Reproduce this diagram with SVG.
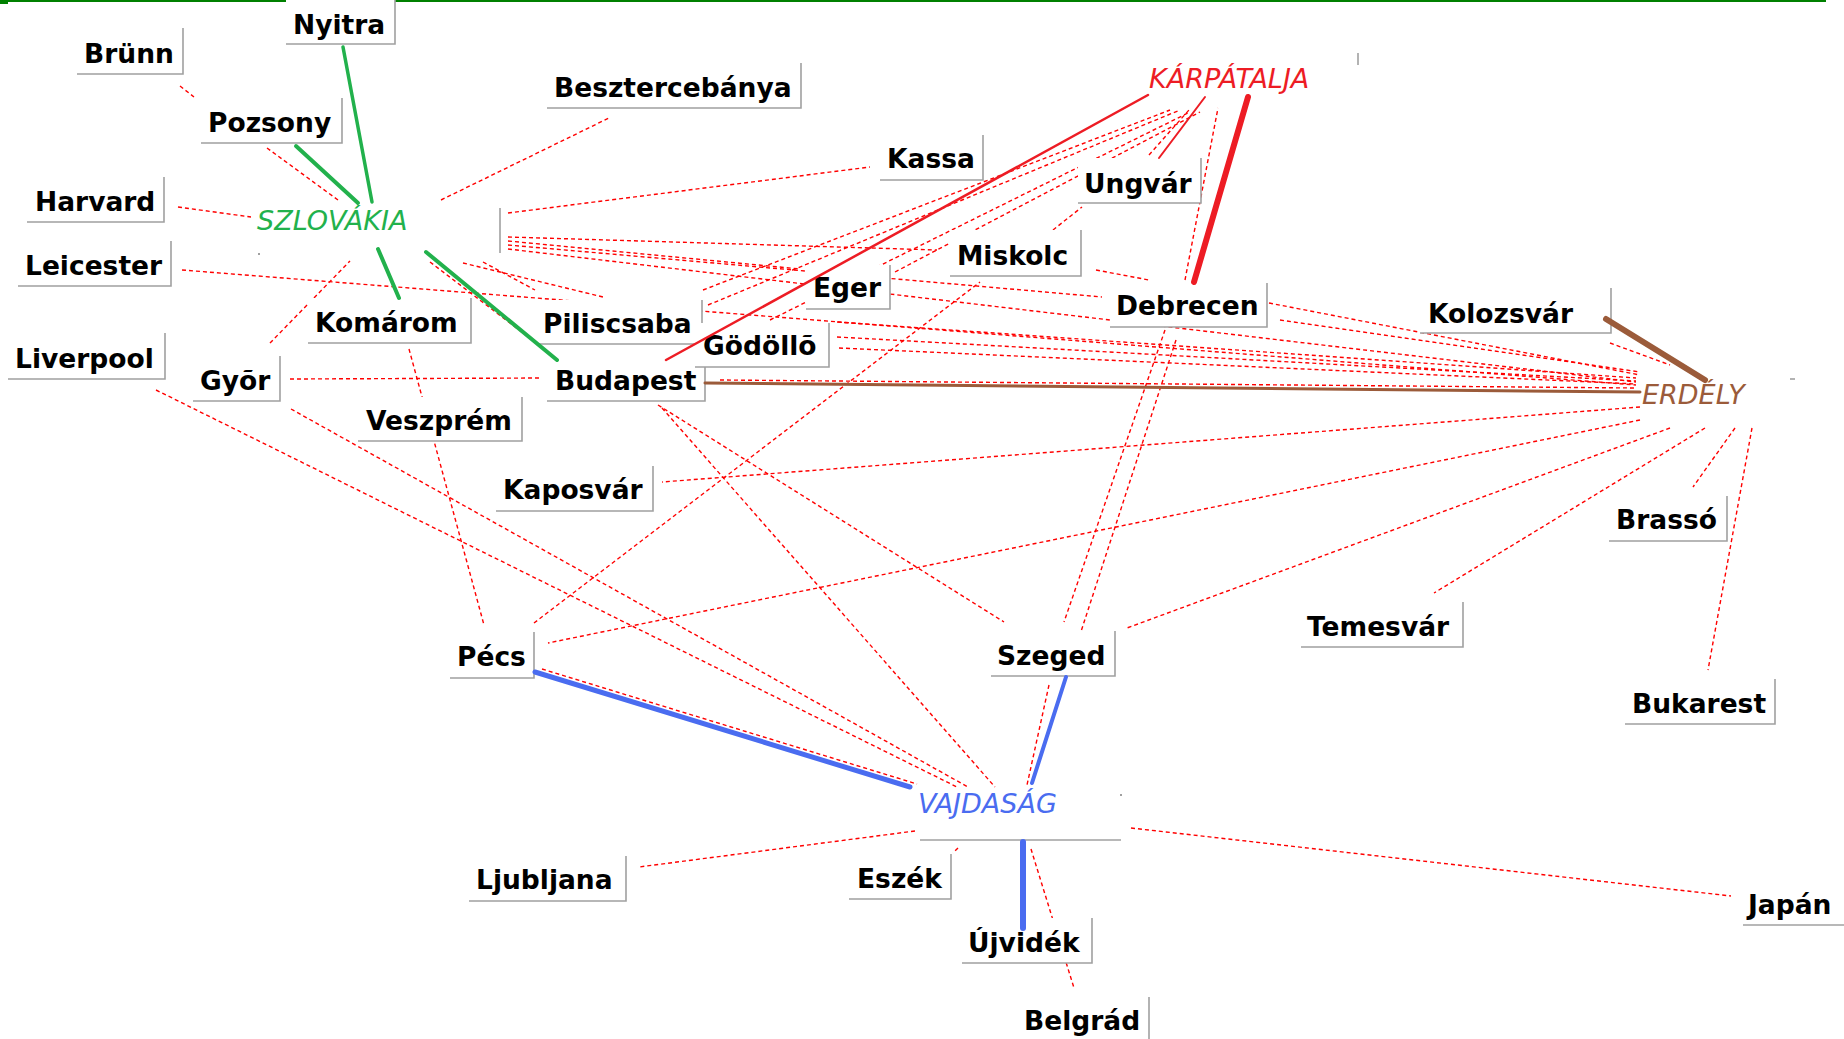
<svg xmlns="http://www.w3.org/2000/svg" width="1844" height="1039" viewBox="0 0 1844 1039">
<style>
.d{stroke:#ff0000;stroke-width:1.4;stroke-dasharray:4 3;fill:none}
.bg{fill:#ffffff}
.bd{fill:none;stroke:#a0a0a0;stroke-width:1.6}
.t{font-family:"DejaVu Sans","Liberation Sans",sans-serif;font-weight:bold;font-size:26.5px;fill:#000}
.r{font-family:"DejaVu Sans","Liberation Sans",sans-serif;font-style:italic;font-size:27px}
.g{stroke:#22b14c;stroke-linecap:round;fill:none}
.rd{stroke:#ed1c24;stroke-linecap:round;fill:none}
.bl{stroke:#4a6cf0;stroke-linecap:round;fill:none}
.br{stroke:#9b5b3a;stroke-linecap:round;fill:none}
</style>
<rect x="0" y="0" width="1844" height="1039" fill="#ffffff"/>
<line x1="0" y1="1" x2="1826" y2="1" stroke="#008000" stroke-width="2"/>
<rect x="0" y="0" width="8" height="4" fill="#008000"/>
<g id="connectors">
<line class="d" x1="180" y1="86" x2="194" y2="97"/>
<line class="d" x1="267" y1="148" x2="338" y2="200"/>
<line class="d" x1="178" y1="207" x2="251" y2="217"/>
<line class="d" x1="441" y1="200" x2="609" y2="118"/>
<line class="d" x1="508" y1="213" x2="870" y2="167"/>
<line class="d" x1="508" y1="237" x2="937" y2="250"/>
<line class="d" x1="508" y1="241" x2="800" y2="269"/>
<line class="d" x1="508" y1="245" x2="1102" y2="297"/>
<line class="d" x1="508" y1="249" x2="1636" y2="382"/>
<line class="d" x1="182" y1="270" x2="1636" y2="385"/>
<line class="d" x1="463" y1="263" x2="603" y2="297"/>
<line class="d" x1="483" y1="262" x2="535" y2="290"/>
<line class="d" x1="430" y1="262" x2="548" y2="352"/>
<line class="d" x1="270" y1="343" x2="350" y2="261"/>
<line class="d" x1="290" y1="379" x2="542" y2="378"/>
<line class="d" x1="409" y1="349" x2="484" y2="625"/>
<line class="d" x1="156" y1="390" x2="957" y2="787"/>
<line class="d" x1="291" y1="409" x2="968" y2="787"/>
<line class="d" x1="658" y1="405" x2="1004" y2="622"/>
<line class="d" x1="662" y1="408" x2="995" y2="787"/>
<line class="d" x1="534" y1="623" x2="980" y2="282"/>
<line class="d" x1="1640" y1="407" x2="662" y2="482"/>
<line class="d" x1="1640" y1="420" x2="548" y2="643"/>
<line class="d" x1="1670" y1="428" x2="1127" y2="628"/>
<line class="d" x1="1705" y1="428" x2="1434" y2="593"/>
<line class="d" x1="1735" y1="428" x2="1693" y2="487"/>
<line class="d" x1="1752" y1="428" x2="1708" y2="670"/>
<line class="d" x1="1165" y1="330" x2="1064" y2="622"/>
<line class="d" x1="1176" y1="340" x2="1031" y2="785"/>
<line class="d" x1="542" y1="669" x2="917" y2="784"/>
<line class="d" x1="1049" y1="685" x2="1027" y2="785"/>
<line class="d" x1="915" y1="831" x2="639" y2="867"/>
<line class="d" x1="958" y1="848" x2="953" y2="853"/>
<line class="d" x1="1031" y1="849" x2="1074" y2="988"/>
<line class="d" x1="1131" y1="828" x2="1731" y2="896"/>
<line class="d" x1="703" y1="290" x2="1170" y2="110"/>
<line class="d" x1="708" y1="305" x2="1180" y2="110"/>
<line class="d" x1="770" y1="320" x2="1190" y2="112"/>
<line class="d" x1="895" y1="272" x2="1200" y2="112"/>
<line class="d" x1="1149" y1="155" x2="1189" y2="110"/>
<line class="d" x1="1185" y1="280" x2="1218" y2="108"/>
<line class="d" x1="1053" y1="230" x2="1082" y2="207"/>
<line class="d" x1="1096" y1="270" x2="1149" y2="280"/>
<line class="d" x1="1269" y1="303" x2="1640" y2="375"/>
<line class="d" x1="1280" y1="320" x2="1640" y2="372"/>
<line class="d" x1="1610" y1="343" x2="1670" y2="365"/>
<line class="d" x1="837" y1="322" x2="1636" y2="378"/>
<line class="d" x1="837" y1="337" x2="1636" y2="381"/>
<line class="d" x1="839" y1="348" x2="1636" y2="384"/>
<line class="d" x1="720" y1="380" x2="1636" y2="388"/>
</g>
<g id="nodes">
<g id="n-nyitra"><rect class="bg" x="286" y="0" width="109" height="44"/><path class="bd" d="M395,0V44H286"/><text class="t" x="293" y="34">Nyitra</text></g>
<g id="n-brunn"><rect class="bg" x="77" y="28" width="106" height="46"/><path class="bd" d="M183,28V74H77"/><text class="t" x="84" y="63">Brünn</text></g>
<g id="n-pozsony"><rect class="bg" x="201" y="98" width="141" height="45"/><path class="bd" d="M342,98V143H201"/><text class="t" x="208" y="132">Pozsony</text></g>
<g id="n-beszterce"><rect class="bg" x="547" y="63" width="254" height="45"/><path class="bd" d="M801,63V108H547"/><text class="t" x="554" y="97">Besztercebánya</text></g>
<g id="n-harvard"><rect class="bg" x="27" y="177" width="137" height="45"/><path class="bd" d="M164,177V222H27"/><text class="t" x="35" y="211">Harvard</text></g>
<g id="n-leicester"><rect class="bg" x="18" y="241" width="153" height="45"/><path class="bd" d="M171,241V286H18"/><text class="t" x="25" y="275">Leicester</text></g>
<g id="n-liverpool"><rect class="bg" x="8" y="333" width="157" height="46"/><path class="bd" d="M165,333V379H8"/><text class="t" x="15" y="368">Liverpool</text></g>
<g id="n-komarom"><rect class="bg" x="308" y="298" width="163" height="45"/><path class="bd" d="M471,298V343H308"/><text class="t" x="315" y="332">Komárom</text></g>
<g id="n-gyor"><rect class="bg" x="193" y="356" width="87" height="45"/><path class="bd" d="M280,356V401H193"/><text class="t" x="200" y="390">Gyõr</text></g>
<g id="n-veszprem"><rect class="bg" x="358" y="397" width="164" height="44"/><path class="bd" d="M522,397V441H358"/><text class="t" x="366" y="430">Veszprém</text></g>
<g id="n-kaposvar"><rect class="bg" x="496" y="466" width="157" height="45"/><path class="bd" d="M653,466V511H496"/><text class="t" x="503" y="499">Kaposvár</text></g>
<g id="n-pecs"><rect class="bg" x="450" y="632" width="84" height="46"/><path class="bd" d="M534,632V678H450"/><text class="t" x="457" y="666">Pécs</text></g>
<g id="n-piliscsaba"><rect class="bg" x="536" y="300" width="166" height="44"/><path class="bd" d="M702,300V344H536"/><text class="t" x="543" y="333">Piliscsaba</text></g>
<g id="n-budapest"><rect class="bg" x="547" y="356" width="158" height="45"/><path class="bd" d="M705,356V401H547"/><text class="t" x="555" y="390">Budapest</text></g>
<g id="n-godollo"><rect class="bg" x="695" y="323" width="134" height="44"/><path class="bd" d="M829,323V367H695"/><text class="t" x="703" y="355">Gödöllõ</text></g>
<g id="n-eger"><rect class="bg" x="806" y="265" width="84" height="44"/><path class="bd" d="M890,265V309H806"/><text class="t" x="813" y="297">Eger</text></g>
<g id="n-kassa"><rect class="bg" x="880" y="135" width="103" height="45"/><path class="bd" d="M983,135V180H880"/><text class="t" x="887" y="168">Kassa</text></g>
<g id="n-miskolc"><rect class="bg" x="950" y="230" width="131" height="46"/><path class="bd" d="M1081,230V276H950"/><text class="t" x="957" y="265">Miskolc</text></g>
<g id="n-ungvar"><rect class="bg" x="1078" y="158" width="123" height="45"/><path class="bd" d="M1201,158V203H1078"/><text class="t" x="1084" y="193">Ungvár</text></g>
<g id="n-debrecen"><rect class="bg" x="1110" y="283" width="157" height="44"/><path class="bd" d="M1267,283V327H1110"/><text class="t" x="1116" y="315">Debrecen</text></g>
<g id="n-kolozsvar"><rect class="bg" x="1420" y="288" width="191" height="45"/><path class="bd" d="M1611,288V333H1420"/><text class="t" x="1428" y="323">Kolozsvár</text></g>
<g id="n-brasso"><rect class="bg" x="1609" y="496" width="118" height="45"/><path class="bd" d="M1727,496V541H1609"/><text class="t" x="1616" y="529">Brassó</text></g>
<g id="n-temesvar"><rect class="bg" x="1301" y="602" width="162" height="45"/><path class="bd" d="M1463,602V647H1301"/><text class="t" x="1307" y="636">Temesvár</text></g>
<g id="n-bukarest"><rect class="bg" x="1625" y="679" width="150" height="45"/><path class="bd" d="M1775,679V724H1625"/><text class="t" x="1632" y="713">Bukarest</text></g>
<g id="n-szeged"><rect class="bg" x="991" y="631" width="124" height="45"/><path class="bd" d="M1115,631V676H991"/><text class="t" x="997" y="665">Szeged</text></g>
<g id="n-ljubljana"><rect class="bg" x="469" y="856" width="157" height="45"/><path class="bd" d="M626,856V901H469"/><text class="t" x="476" y="889">Ljubljana</text></g>
<g id="n-eszek"><rect class="bg" x="849" y="854" width="102" height="45"/><path class="bd" d="M951,854V899H849"/><text class="t" x="857" y="888">Eszék</text></g>
<g id="n-ujvidek"><rect class="bg" x="962" y="918" width="130" height="45"/><path class="bd" d="M1092,918V963H962"/><text class="t" x="968" y="952">Újvidék</text></g>
<g id="n-belgrad"><rect class="bg" x="1017" y="997" width="132" height="42"/><path class="bd" d="M1149,997V1039"/><text class="t" x="1024" y="1030">Belgrád</text></g>
<g id="n-japan"><rect class="bg" x="1743" y="880" width="101" height="45"/><path class="bd" d="M1743,925H1844"/><text class="t" x="1748" y="914">Japán</text></g>
<g id="n-szlovakia"><path class="bd" d="M500,208V253"/><rect x="258" y="253" width="2" height="2" fill="#a0a0a0"/><text class="r" x="257" y="230" fill="#22b14c">SZLOVÁKIA</text></g>
<g id="n-karpatalja"><path class="bd" d="M1358,53V65"/><text class="r" x="1149" y="88" fill="#ed1c24">KÁRPÁTALJA</text></g>
<g id="n-erdely"><path class="bd" d="M1790,379H1795"/><text class="r" x="1642" y="404" fill="#9b5b3a">ERDÉLY</text></g>
<g id="n-vajdasag"><path class="bd" d="M920,840H1121"/><rect x="1120" y="794" width="2" height="2" fill="#a0a0a0"/><text class="r" x="918" y="813" fill="#4a6cf0">VAJDASÁG</text></g>
</g>
<g id="strong-links">
<line class="g" x1="343" y1="47" x2="372" y2="202" stroke-width="3.5"/>
<line class="g" x1="296" y1="146" x2="358" y2="203" stroke-width="4"/>
<line class="g" x1="378" y1="249" x2="399" y2="298" stroke-width="4"/>
<line class="g" x1="426" y1="252" x2="557" y2="360" stroke-width="4"/>
<line class="rd" x1="666" y1="360" x2="1148" y2="95" stroke-width="2.5"/>
<line class="rd" x1="1205" y1="97" x2="1159" y2="158" stroke-width="2"/>
<line class="rd" x1="1248" y1="97" x2="1194" y2="282" stroke-width="6"/>
<line class="br" x1="705" y1="383" x2="1640" y2="392" stroke-width="3"/>
<line class="br" x1="1606" y1="319" x2="1705" y2="380" stroke-width="6"/>
<line class="bl" x1="535" y1="672" x2="910" y2="787" stroke-width="5"/>
<line class="bl" x1="1066" y1="677" x2="1032" y2="783" stroke-width="4"/>
<line class="bl" x1="1023" y1="842" x2="1023" y2="928" stroke-width="6"/>
</g>
</svg>
